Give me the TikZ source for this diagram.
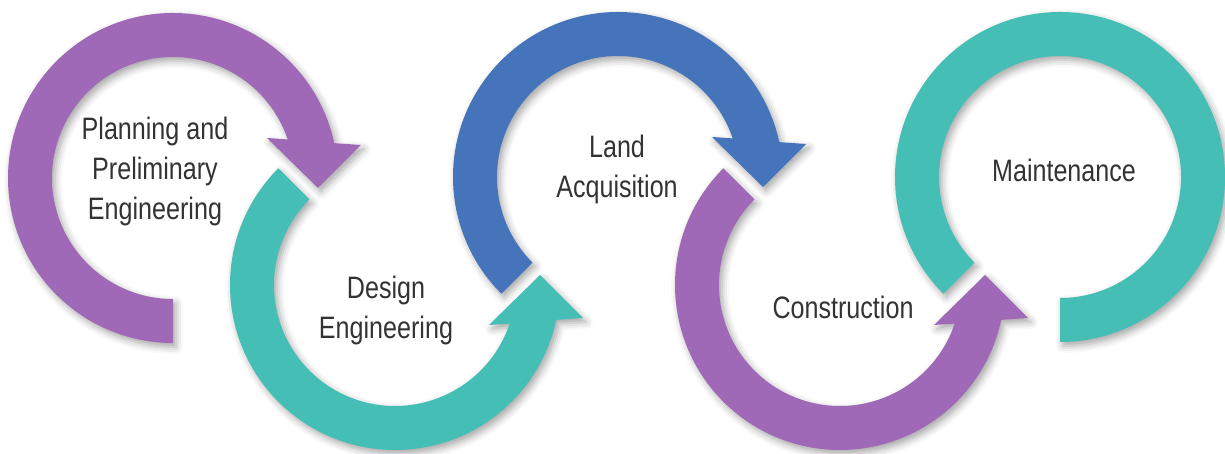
\documentclass[tikz,border=0pt]{standalone}
\usepackage{fontspec}
\setmainfont[FakeStretch=0.81]{Liberation Sans}
\usetikzlibrary{shadows.blur}
\definecolor{purp}{HTML}{A069B7}
\definecolor{teal2}{HTML}{45BFB5}
\definecolor{blue2}{HTML}{4674BB}
\definecolor{txt}{HTML}{333333}
\begin{document}
\begin{tikzpicture}[x=1pt,y=1pt,
  ring/.style={blur shadow={shadow xshift=3pt,shadow yshift=-4pt,shadow blur radius=7pt,shadow opacity=35}},
  lbl/.style={text=txt,align=center,font=\fontsize{31}{40}\selectfont,inner sep=0pt}]
\useasboundingbox (0,0) rectangle (1225,454);
% ring 1 (purple, clockwise)
\begin{scope}[shift={(173,276)}]
\fill[purp,ring] (270:165) arc[start angle=270,end angle=12.2,radius=165] -- (188,33) -- (145,-10) -- (94,40) -- (18.6:121) arc[start angle=18.6,end angle=270,radius=121] -- cycle;
\end{scope}
% ring 2 (teal, counterclockwise)
\begin{scope}[shift={(395,169)}]
\fill[teal2,ring] (135:165) arc[start angle=135,end angle=347.8,radius=165] -- (188,-33) -- (145,10) -- (94,-40) -- (341.4:121) arc[start angle=341.4,end angle=135,radius=121] -- cycle;
\end{scope}
% ring 3 (blue, clockwise)
\begin{scope}[shift={(618,277)}]
\fill[blue2,ring] (225:165) arc[start angle=225,end angle=12.2,radius=165] -- (188,33) -- (145,-10) -- (94,40) -- (18.6:121) arc[start angle=18.6,end angle=225,radius=121] -- cycle;
\end{scope}
% ring 4 (purple, counterclockwise)
\begin{scope}[shift={(840,169)}]
\fill[purp,ring] (135:165) arc[start angle=135,end angle=347.8,radius=165] -- (188,-33) -- (145,10) -- (94,-40) -- (341.4:121) arc[start angle=341.4,end angle=135,radius=121] -- cycle;
\end{scope}
% ring 5 (teal, no head)
\begin{scope}[shift={(1060,277)}]
\fill[teal2,ring] (225:165) arc[start angle=225,end angle=-90,radius=165] -- (-90:121) arc[start angle=-90,end angle=225,radius=121] -- cycle;
\end{scope}
\node[lbl] (planning) at (155,283) {Planning and\\Preliminary\\Engineering};
\node[lbl] (design) at (386,144) {Design\\Engineering};
\node[lbl] (land) at (617,285) {Land\\Acquisition};
\node[lbl] (construction) at (843,147) {Construction};
\node[lbl] (maintenance) at (1064,284) {Maintenance};
\end{tikzpicture}
\end{document}
